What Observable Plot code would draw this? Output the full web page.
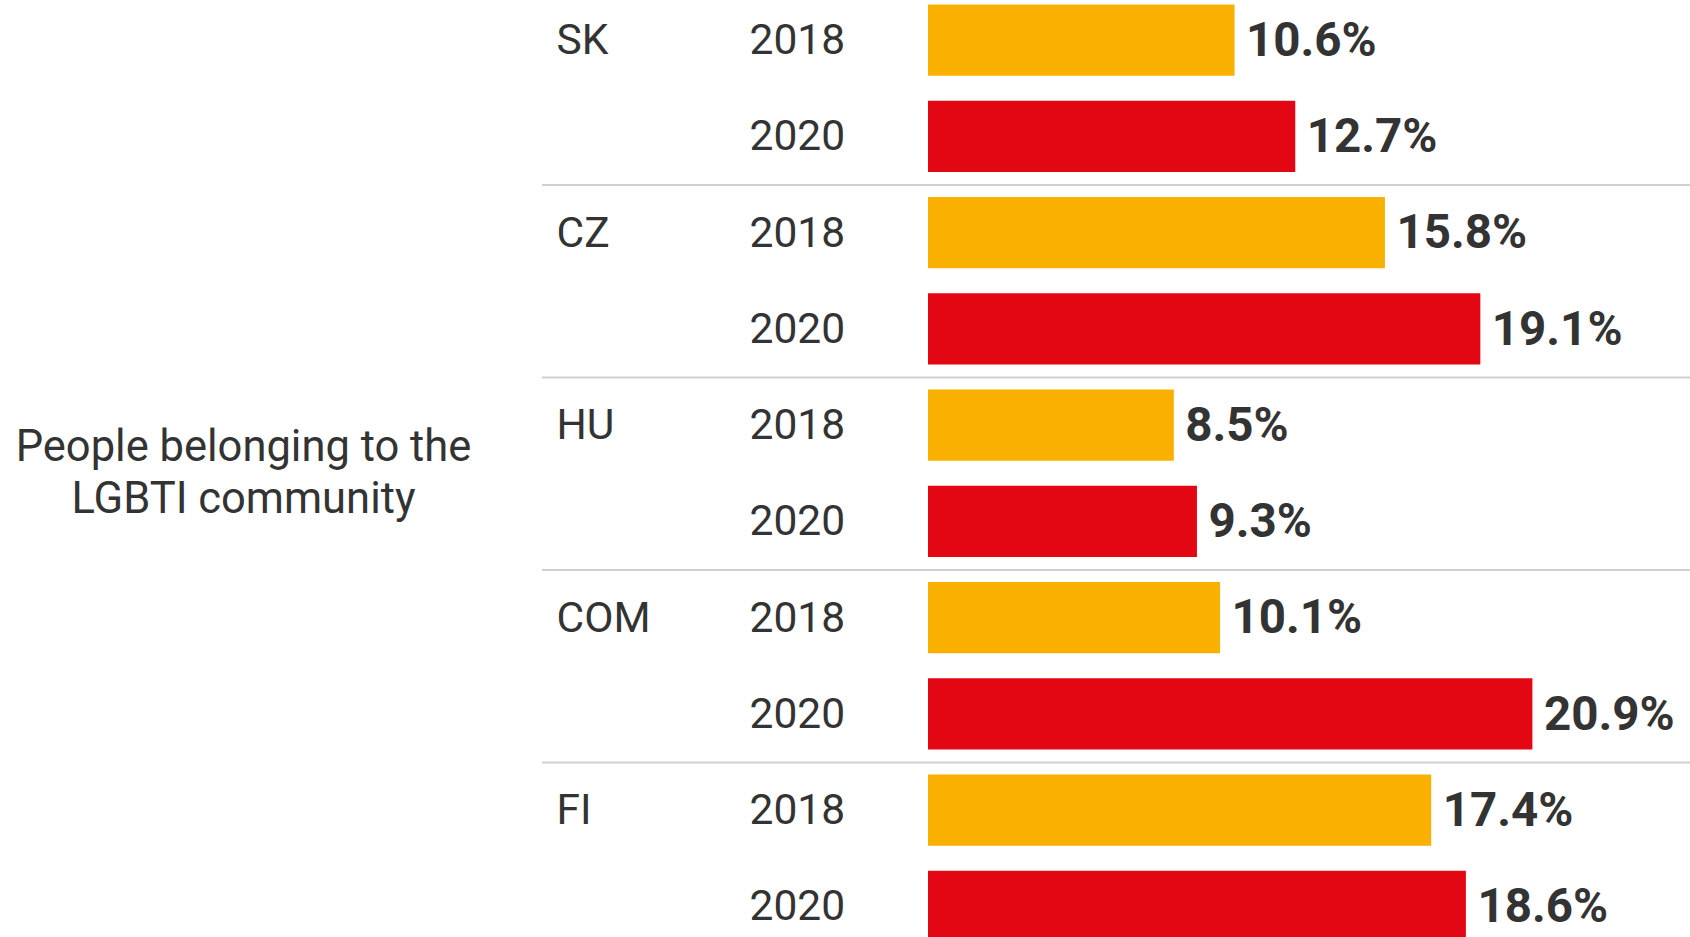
<!DOCTYPE html>
<html>
<head>
<meta charset="utf-8">
<script src="https://cdn.jsdelivr.net/npm/d3@7"></script>
<script src="https://cdn.jsdelivr.net/npm/@observablehq/plot@0.6"></script>
<style>
  html, body { margin: 0; padding: 0; background: #ffffff; }
  #chart svg { display: block; }
</style>
</head>
<body>
<div id="chart"></div>
<script>
const countries = ["SK", "CZ", "HU", "COM", "FI"];
const years = ["2018", "2020"];
const values2018 = [10.6, 15.8, 8.5, 10.1, 17.4];
const values2020 = [12.7, 19.1, 9.3, 20.9, 18.6];
const title = "People belonging to the\nLGBTI community";
const yearColors = ["#f9b000", "#e30613"];

const rows = countries.flatMap((c, i) => years.map((y, j) => ({
  country: c,
  year: y,
  key: c + "-" + y,
  value: j === 0 ? values2018[i] : values2020[i],
  first: j === 0,
  lastYear: j === years.length - 1,
  lastCountry: i === countries.length - 1
})));

const textColor = "#333333";

const chart = Plot.plot({
  width: 1690,
  height: 937,
  marginLeft: 542,
  marginRight: 0,
  marginTop: 0,
  marginBottom: 0,
  style: { fontFamily: "Roboto", background: "#ffffff" },
  x: { domain: [0, 26.35], range: [928, 1690], axis: null },
  y: { domain: rows.map(d => d.key), range: [-8, 954.5], round: false, paddingInner: 0.26, paddingOuter: 0.13, axis: null },
  color: { domain: years, range: yearColors },
  marks: [
    Plot.ruleY(rows.filter(d => d.lastYear && !d.lastCountry), { y: "key", dy: 48, stroke: "#d0d0d0", strokeWidth: 2 }),
    Plot.barX(rows, { x: "value", y: "key", fill: "year" }),
    Plot.text(rows.filter(d => d.first), { y: "key", text: "country", frameAnchor: "left", dx: 14, textAnchor: "start", fontSize: 42.5, fill: textColor }),
    Plot.text(rows, { y: "key", text: "year", frameAnchor: "left", dx: 207, textAnchor: "start", fontSize: 42.5, fill: textColor }),
    Plot.text(rows, { x: "value", y: "key", text: d => d.value.toFixed(1) + "%", dx: 11, textAnchor: "start", fontSize: 47.5, fontWeight: "bold", fill: textColor }),
    Plot.text([title], { text: d => d, frameAnchor: "left", dx: -299, dy: 1, textAnchor: "middle", lineAnchor: "middle", fontSize: 43.5, lineHeight: 1.21, fill: textColor })
  ]
});

document.getElementById("chart").appendChild(chart);
</script>
</body>
</html>
